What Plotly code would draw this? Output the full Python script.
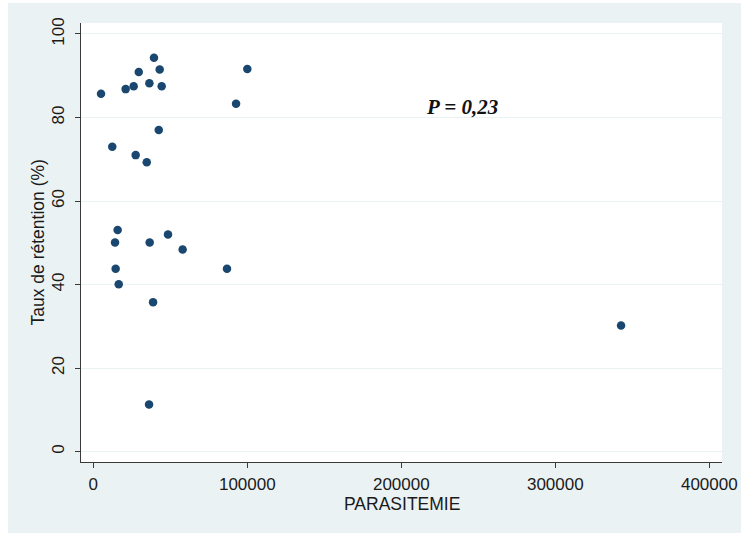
import plotly.graph_objects as go

# Parasitémie (parasites/µL) vs taux de rétention (%)
parasitemie = [5000, 12300, 21000, 26200, 29500, 27500, 34700, 36400, 39400,
               43100, 44400, 42500, 92700, 100000, 15800, 14100, 14500, 16500,
               36600, 48500, 58000, 86800, 38800, 36200, 342700]
retention = [85.7, 73.0, 86.8, 87.5, 90.9, 71.0, 69.3, 88.2, 94.3,
             91.5, 87.5, 77.0, 83.3, 91.6, 53.1, 50.1, 43.8, 40.1,
             50.1, 52.0, 48.4, 43.8, 35.8, 11.3, 30.2]

x_ticks = [0, 100000, 200000, 300000, 400000]
x_tick_labels = ["0", "100000", "200000", "300000", "400000"]
y_ticks = [0, 20, 40, 60, 80, 100]
y_tick_labels = ["0", "20", "40", "60", "80", "100"]

x_title = "PARASITEMIE"
y_title = "Taux de rétention (%)"
p_label = "P = 0,23"
p_pos = (215000, 82.5)

BG = "#eaf2f3"
NAVY = "#1a476f"
AXIS = "#3a3a3a"
FONT = "Liberation Sans, Arial, sans-serif"

fig = go.Figure()
fig.add_trace(go.Scatter(
    x=parasitemie, y=retention, mode="markers",
    marker=dict(size=8.5, color=NAVY, line=dict(width=0)),
    showlegend=False, hoverinfo="x+y",
))

fig.add_annotation(
    x=p_pos[0], y=p_pos[1], xref="x", yref="y", text="<b><i>" + p_label + "</i></b>",
    showarrow=False, xanchor="left", yanchor="middle",
    font=dict(family="Liberation Serif, Times New Roman, serif", size=21, color="#111111"),
)

# axis titles
fig.add_annotation(
    x=0.5, y=-0.0965, xref="paper", yref="paper", text=x_title, showarrow=False,
    xanchor="center", yanchor="middle", font=dict(size=17.5),
)
fig.add_annotation(
    x=-0.0671, y=0.5, xref="paper", yref="paper", text=y_title, showarrow=False,
    textangle=-90, xanchor="center", yanchor="middle", font=dict(size=17.5),
)

# white page margin around the tinted graph region
for x0, x1, y0, y1 in [(-0.3, -0.1139, -0.5, 1.5), (-0.3, 1.3, 1.0456, 1.5)]:
    fig.add_shape(type="rect", xref="paper", yref="paper", x0=x0, x1=x1, y0=y0, y1=y1,
                  fillcolor="white", line=dict(width=0), layer="below")

fig.update_layout(
    width=741, height=533,
    margin=dict(l=81, r=19, t=23, b=71, pad=0),
    paper_bgcolor=BG, plot_bgcolor="white",
    font=dict(family=FONT, size=17, color="#1a1a1a"),
    xaxis=dict(
        range=[-8000, 408250], tickvals=x_ticks, ticktext=x_tick_labels,
        showgrid=False, zeroline=False, showline=True, linecolor=AXIS, linewidth=1.3,
        ticks="outside", ticklen=5, tickcolor=AXIS, tickwidth=1.3,
        tickfont=dict(size=17), ticklabelstandoff=1, automargin=False,
        mirror=False,
    ),
    yaxis=dict(
        range=[-2.47, 102.63], tickvals=y_ticks, ticktext=y_tick_labels,
        showgrid=True, gridcolor=BG, gridwidth=1.2, zeroline=False,
        showline=True, linecolor=AXIS, linewidth=1.3,
        ticks="outside", ticklen=5, tickcolor=AXIS, tickwidth=1.3,
        tickangle=-90, tickfont=dict(size=17), ticklabelstandoff=4, automargin=False,
    ),
)

fig.write_html("out.html")
